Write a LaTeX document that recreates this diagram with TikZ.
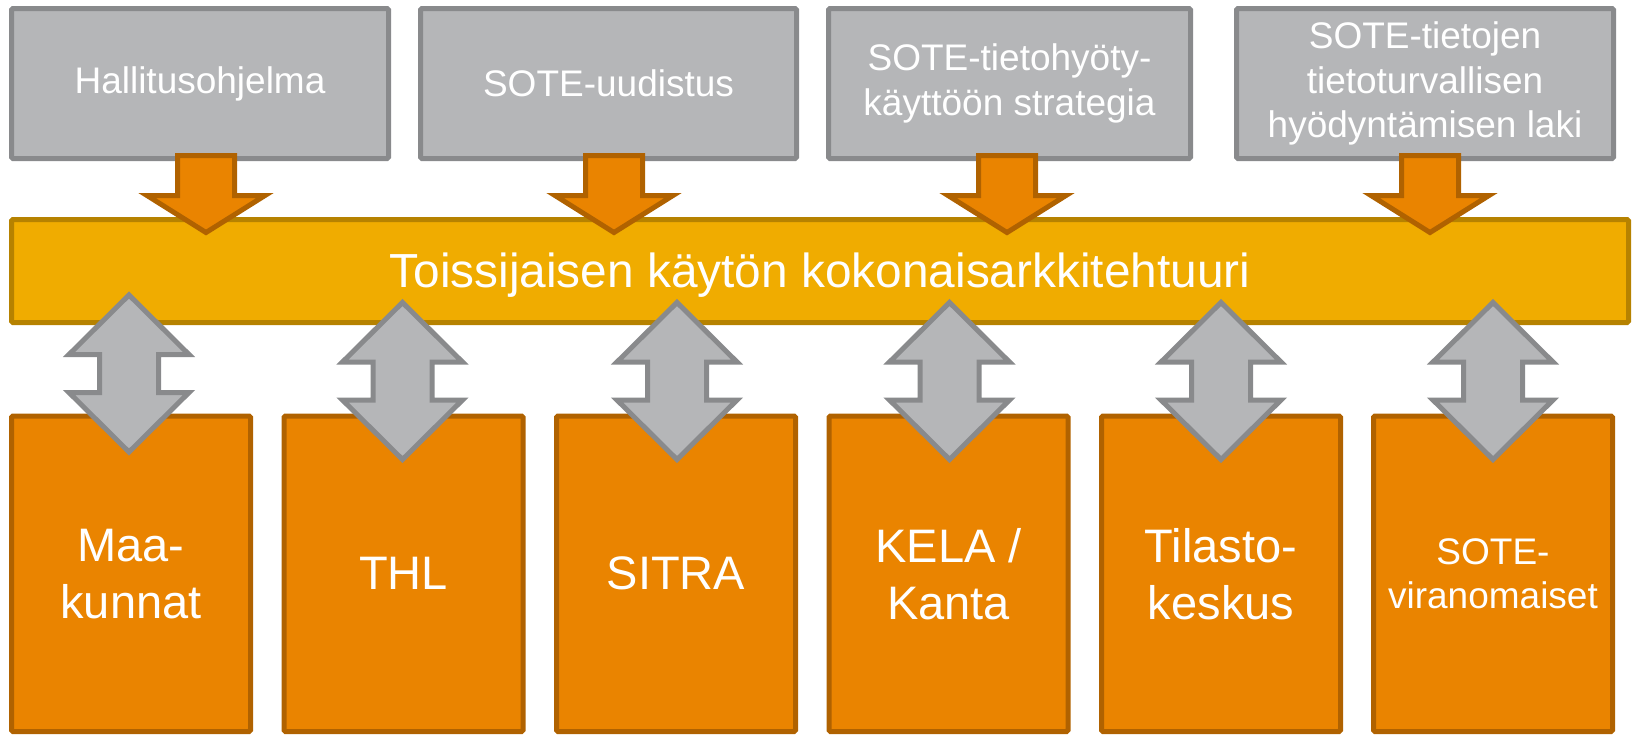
\documentclass[tikz,border=0pt]{standalone}
\usepackage{fontspec}
\setmainfont{Liberation Sans}
\definecolor{grayfill}{HTML}{B5B6B8}
\definecolor{grayline}{HTML}{898A8C}
\definecolor{bandfill}{HTML}{F0AC00}
\definecolor{bandline}{HTML}{B68200}
\definecolor{orfill}{HTML}{EA8400}
\definecolor{orline}{HTML}{B06200}
\begin{document}
\begin{tikzpicture}[x=1pt,y=-1pt,
  topbox/.style={draw=grayline, fill=grayfill, line width=5pt, rounded corners=1.5pt,
    text=white, align=center, inner sep=0pt, minimum height=150pt,
    font=\fontsize{37}{44.4}\selectfont},
  bandbox/.style={draw=bandline, fill=bandfill, line width=5pt, rounded corners=1.5pt,
    text=white, inner sep=0pt, minimum width=1617pt, minimum height=103pt,
    text height=33pt, text depth=0pt,
    font=\fontsize{47.8}{57}\selectfont},
  botbox/.style={draw=orline, fill=orfill, line width=5pt, rounded corners=1.5pt,
    text=white, align=center, inner sep=0pt, minimum width=239pt, minimum height=315.5pt,
    font=\fontsize{47}{57}\selectfont},
  smalltext/.style={font=\fontsize{37}{43.5}\selectfont},
  downarrstyle/.style={draw=orline, fill=orfill, line width=5pt},
  dblarrstyle/.style={draw=grayline, fill=grayfill, line width=5pt},
  downarr/.pic={\path[downarrstyle] (-28.5,-40) -- (28.5,-40) -- (28.5,0) -- (59,0) -- (0,37) -- (-59,0) -- (-28.5,0) -- cycle;},
  dblarr/.pic={\path[dblarrstyle] (0,-78.5) -- (60,-19) -- (29.5,-19) -- (29.5,19) -- (60,19) -- (0,78.5) -- (-60,19) -- (-29.5,19) -- (-29.5,-19) -- (-60,-19) -- cycle;}
]
\useasboundingbox (0,0) rectangle (1636,734);

% top boxes
\node[topbox, minimum width=377pt] (t1) at (200,83.5) {Hallitusohjelma};
\node[topbox, minimum width=376pt] (t2) at (608.5,83.5) {SOTE-uudistus};
\node[topbox, minimum width=362pt] (t3) at (1009.5,83.5) {SOTE-tietohyöty-\\käyttöön strategia};
\node[topbox, minimum width=377pt] (t4) at (1425,83.5) {SOTE-tietojen\\tietoturvallisen\\hyödyntämisen laki};

% band
\node[bandbox] (band) at (820,271) {Toissijaisen käytön kokonaisarkkitehtuuri};

% bottom boxes
\node[botbox] (b1) at (131,573.75) {Maa-\\kunnat};
\node[botbox] (b2) at (403.5,573.75) {THL};
\node[botbox] (b3) at (676,573.75) {SITRA};
\node[botbox] (b4) at (948.5,573.75) {KELA /\\Kanta};
\node[botbox] (b5) at (1221,573.75) {Tilasto-\\keskus};
\node[botbox, smalltext] (b6) at (1493,573.75) {SOTE-\\viranomaiset};

% down arrows (top boxes -> band)
\coordinate (dlevel) at (0,195.5);
\pic at ([xshift=6pt]t1.south |- dlevel) {downarr};
\pic at ([xshift=5.5pt]t2.south |- dlevel) {downarr};
\pic at ([xshift=-2.5pt]t3.south |- dlevel) {downarr};
\pic at ([xshift=5pt]t4.south |- dlevel) {downarr};

% double arrows (band <-> bottom boxes)
\coordinate (ulevel) at (0,381);
\coordinate (ulevelA) at (0,373.5);
\pic at ([xshift=-2pt]b1.north |- ulevelA) {dblarr};
\pic at ([xshift=-1pt]b2.north |- ulevel) {dblarr};
\pic at ([xshift=1pt]b3.north |- ulevel) {dblarr};
\pic at ([xshift=1pt]b4.north |- ulevel) {dblarr};
\pic at (b5.north |- ulevel) {dblarr};
\pic at (b6.north |- ulevel) {dblarr};
\end{tikzpicture}
\end{document}
